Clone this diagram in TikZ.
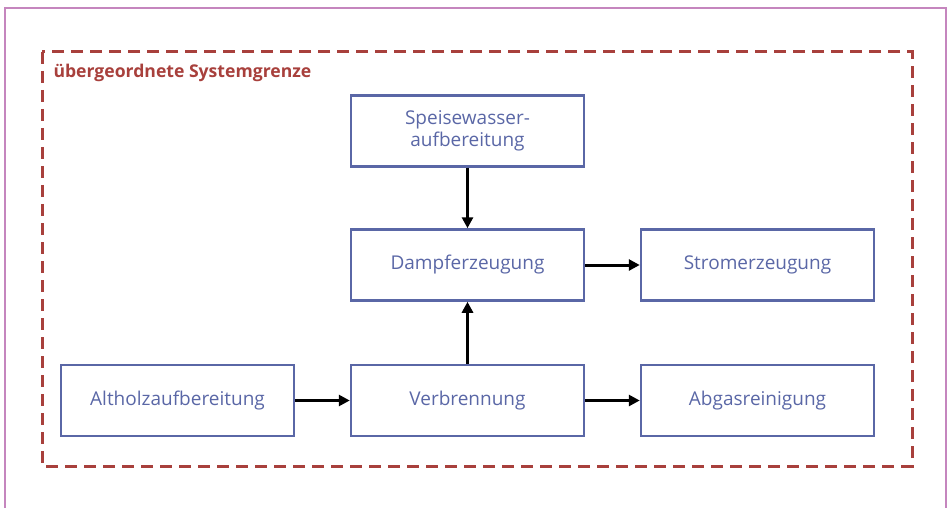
\documentclass[tikz,border=0pt]{standalone}
\usepackage{fontspec}
\setmainfont{Open Sans}
\usepackage{tikz}
\usetikzlibrary{arrows.meta}

\definecolor{boxblue}{HTML}{5A67A6}
\definecolor{grenzrot}{HTML}{A8403C}
\definecolor{rahmen}{HTML}{C586BE}

\begin{document}
\begin{tikzpicture}[x=1pt, y=-1pt, >={Triangle[length=11pt,width=11pt]}]
            \tikzstyle{stufe}=[rectangle, draw=boxblue, line width=2.5pt, minimum width=233pt, minimum height=71pt, align=center, text=boxblue, font=\fontsize{19}{22}\selectfont, inner sep=0pt]
            \tikzstyle{fluss}=[->, line width=3pt, black]

                \useasboundingbox (0,0) rectangle (951,508);
                \draw[rahmen, line width=1.5pt] (5,510) -- (5,8) -- (946,8) -- (946,510);

                % Systemgrenze
                \draw[grenzrot, line width=3pt, dash pattern=on 12pt off 7pt] (42,52) rectangle (912,466);
                \node[anchor=west, text=grenzrot, font=\bfseries\fontsize{17.6}{21}\selectfont] (grenze) at (50,73) {übergeordnete Systemgrenze};

                % Prozesse
                \node[stufe] (speise) at (467.5,131) {Speisewasser-\\aufbereitung};
                \node[stufe] (dampf) at (467.5,265) {Dampferzeugung};
                \node[stufe] (strom) at (757.5,265) {Stromerzeugung};
                \node[stufe] (altholz) at (177.5,400.5) {Altholzaufbereitung};
                \node[stufe] (verbr) at (467.5,400.5) {Verbrennung};
                \node[stufe] (abgas) at (757.5,400.5) {Abgasreinigung};

                % Fluesse
                \draw[fluss] (speise) -- (dampf);
                \draw[fluss] (verbr) -- (dampf);
                \draw[fluss] (dampf) -- (strom);
                \draw[fluss] (altholz) -- (verbr);
                \draw[fluss] (verbr) -- (abgas);
        \end{tikzpicture}
\end{document}
